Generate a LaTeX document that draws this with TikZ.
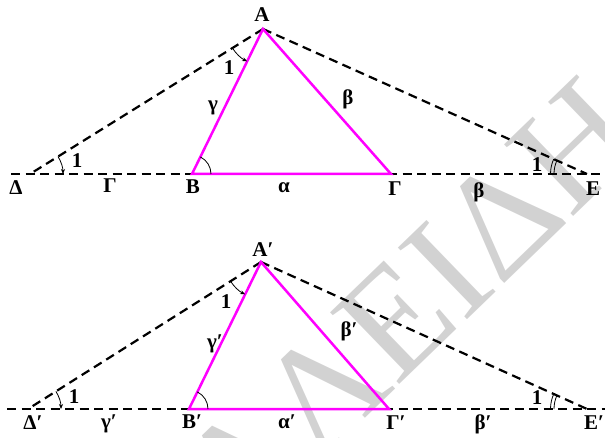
\documentclass[tikz,border=0pt]{standalone}
\usepackage{fontspec}
\setmainfont{Liberation Serif}
\usetikzlibrary{arrows.meta,calc}
\definecolor{mag}{RGB}{255,0,255}
\definecolor{wm}{RGB}{210,210,210}
\begin{document}
\begin{tikzpicture}[x=1pt,y=1pt,
  lbl/.style={font=\fontsize{21}{21}\selectfont\bfseries, inner sep=0pt},
  dashline/.style={line width=2.2pt, dash pattern=on 9pt off 5.5pt},
  tri/.style={draw=mag, line width=2.5pt, line join=miter},
  thinarc/.style={line width=0.8pt},
  arrowarc/.style={line width=0.8pt, -{Stealth[length=5pt,width=4pt]}},
]
\useasboundingbox (0,0) rectangle (605,437);
% watermark
\begin{scope}
\clip (0,0) rectangle (605,437);
\node[font=\fontsize{152}{152}\selectfont, text=wm, rotate=44, anchor=base, inner sep=0pt] (wmk) at (444,95) {ΑΛΕΙΔΗ};
\end{scope}

% ---------- top figure ----------
\coordinate (A) at (263,408);
\coordinate (B) at (192,263);
\coordinate (G) at (391,263);
\coordinate (D) at (30,263);
\coordinate (E) at (587,263);
\coordinate (L) at (11,263);
\coordinate (R) at (605,263);

\draw[dashline] (L) -- (R);
\draw[dashline] (A) -- (D);
\draw[dashline] (A) -- (E);
\draw[tri] (A) -- (B) -- (G) -- cycle;

% angle marks
\draw[arrowarc] let \p1=($(D)-(A)$), \p2=($(B)-(A)$),
  \n1={atan2(\y1,\x1)}, \n2={atan2(\y2,\x2)} in
  ($(A)+(\n1:36)$) arc[start angle=\n1, end angle=\n2, radius=36];
\draw[arrowarc] let \p1=($(A)-(D)$), \n1={atan2(\y1,\x1)} in
  ($(D)+(\n1:33)$) arc[start angle=\n1, end angle=0, radius=33];
\draw[thinarc] let \p1=($(A)-(B)$), \n1={atan2(\y1,\x1)} in
  ($(B)+(0:19)$) arc[start angle=0, end angle=\n1, radius=19];
\draw[thinarc] let \p1=($(A)-(E)$), \n1={atan2(\y1,\x1)} in
  ($(E)+(\n1:33)$) arc[start angle=\n1, end angle=180, radius=33]
  ($(E)+(\n1:36.5)$) arc[start angle=\n1, end angle=180, radius=36.5];

% labels
\node[lbl] (lA) at (262,422) {A};
\node[lbl] (lD) at (16,249) {Δ};
\node[lbl] (lGs) at (110,251) {Γ};
\node[lbl] (lB) at (193,250) {B};
\node[lbl] (lal) at (284,249) {α};
\node[lbl] (lG) at (395,248) {Γ};
\node[lbl] (lbe) at (479,245) {β};
\node[lbl] (lE) at (593,248) {E};
\node[lbl] (lga) at (213,329) {γ};
\node[lbl] (lbs) at (348,338) {β};
\node[lbl] (o1) at (229,369) {1};
\node[lbl] (o2) at (77,276) {1};
\node[lbl] (o3) at (537,272) {1};

% ---------- bottom figure ----------
\coordinate (A2) at (261,175);
\coordinate (B2) at (189,28);
\coordinate (G2) at (389,28);
\coordinate (D2) at (28,28);
\coordinate (E2) at (587,28);
\coordinate (L2) at (7,28);
\coordinate (R2) at (605,28);

\draw[dashline] (L2) -- (R2);
\draw[dashline] (A2) -- (D2);
\draw[dashline] (A2) -- (E2);
\draw[tri] (A2) -- (B2) -- (G2) -- cycle;

\draw[arrowarc] let \p1=($(D2)-(A2)$), \p2=($(B2)-(A2)$),
  \n1={atan2(\y1,\x1)}, \n2={atan2(\y2,\x2)} in
  ($(A2)+(\n1:36)$) arc[start angle=\n1, end angle=\n2, radius=36];
\draw[arrowarc] let \p1=($(A2)-(D2)$), \n1={atan2(\y1,\x1)} in
  ($(D2)+(\n1:33)$) arc[start angle=\n1, end angle=0, radius=33];
\draw[thinarc] let \p1=($(A2)-(B2)$), \n1={atan2(\y1,\x1)} in
  ($(B2)+(0:19)$) arc[start angle=0, end angle=\n1, radius=19];
\draw[thinarc] let \p1=($(A2)-(E2)$), \n1={atan2(\y1,\x1)} in
  ($(E2)+(\n1:33)$) arc[start angle=\n1, end angle=180, radius=33]
  ($(E2)+(\n1:36.5)$) arc[start angle=\n1, end angle=180, radius=36.5];

\node[lbl] (lA2) at (263,187) {A′};
\node[lbl] (lD2) at (33,14) {Δ′};
\node[lbl] (lGs2) at (109,13) {γ′};
\node[lbl] (lB2) at (192,15) {B′};
\node[lbl] (lal2) at (287,15) {α′};
\node[lbl] (lG2) at (396,14) {Γ′};
\node[lbl] (lbe2) at (483,13) {β′};
\node[lbl] (lE2) at (594,14) {E′};
\node[lbl] (lga2) at (215,93) {γ′};
\node[lbl] (lbs2) at (349,106) {β′};
\node[lbl] (p1) at (226,135) {1};
\node[lbl] (p2) at (74,40) {1};
\node[lbl] (p3) at (537,39) {1};
\end{tikzpicture}
\end{document}
